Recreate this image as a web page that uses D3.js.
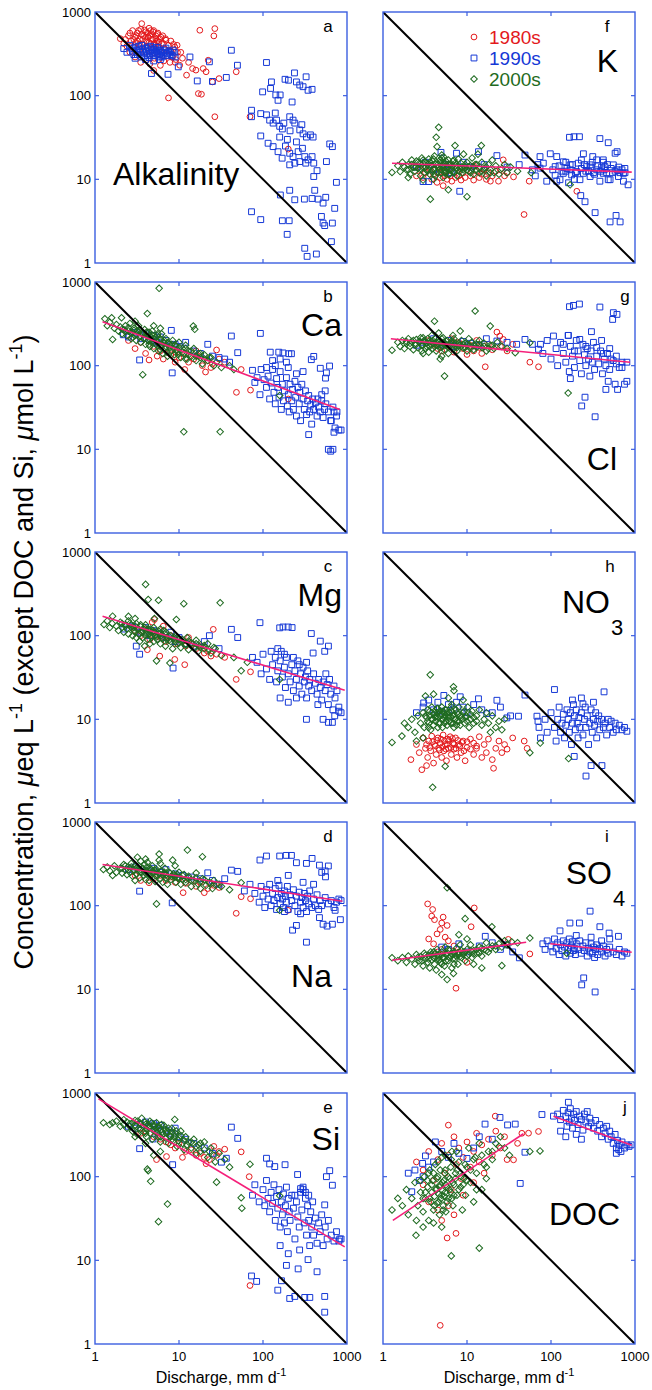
<!DOCTYPE html>
<html lang="en">
<head>
<meta charset="UTF-8">
<title>Concentration vs discharge</title>
<style>
  body { margin: 0; background: #fff; }
  text { font-family: "Liberation Sans", Arial, Helvetica, sans-serif; }
</style>
</head>
<body>
<script src="https://d3js.org/d3.v7.min.js"></script>
<script>
// ---- data (discharge mm/d, concentration) ----
const ticks = [1, 10, 100, 1000];
const decades = ['1980s', '1990s', '2000s'];

const alk80 = [[2.0,480],[2.2,420],[2.4,390],[2.5,520],[2.7,450],[2.8,600],[2.9,380],[3.0,500],[3.1,430],[3.2,560],[3.3,350],[3.4,470],[3.5,620],[3.6,726],[3.7,410],[3.8,520],[3.9,330],[4.0,580],[4.1,450],[4.2,370],[4.3,500],[4.4,640],[4.5,300],[4.6,420],[4.7,550],[4.8,350],[4.9,470],[5.0,600],[5.1,280],[5.2,400],[5.3,520],[5.4,330],[5.5,450],[5.6,560],[5.7,270],[5.8,380],[5.9,480],[6.0,310],[6.2,420],[6.4,520],[6.6,260],[6.8,360],[7.0,460],[7.2,300],[7.5,400],[7.8,250],[8.0,340],[8.3,290],[8.6,410],[8.9,383],[9.2,270],[9.6,330],[10.2,231],[11,280],[12.3,176],[13,250],[14.5,211],[15.9,202],[17,106],[17.7,605],[18.5,104],[19.4,211],[21,193],[22.3,265],[25,146],[26,518],[26.7,633],[26.7,56],[30,160],[48,193],[70,56],[200,23],[7.5,94],[3.5,250],[4.5,240],[2.6,330],[5.0,200],[6.0,230],[3.0,290],[9,250],
  [2.6,560],[2.9,470],[3.1,520],[3.3,600],[3.4,410],[3.6,540],[3.7,470],[3.9,610],[4.0,500],[4.2,560],[4.4,430],[4.5,520],[4.7,470],[4.9,580],[5.1,420],[5.3,480],[5.5,540],[5.8,440],[6.1,500],[6.5,420],[6.9,480],[3.2,450],[4.1,390],[4.6,600],[5.6,380],[2.3,470],[7.5,350],[8,450],[9.5,400],[10.5,330]];
const alk90 = [[2.2,366],[2.6,400],[2.8,340],[3.0,380],[3.2,310],[3.4,360],[3.6,400],[3.8,330],[4.0,370],[4.2,300],[4.4,350],[4.6,390],[4.8,320],[5.0,360],[5.2,300],[5.4,340],[5.6,380],[5.8,310],[6.0,350],[6.3,290],[6.6,330],[7.0,370],[7.3,300],[7.6,340],[8.0,310],[8.5,350],[9,290],[3,280],[4,270],[4.7,184],[7.4,180],[9.8,221],[13.5,290],[16.5,150],[23,254],[25,148],[36.6,165],[42,349],[49.6,231],[5,260],[6,270],
  [2.4,330],[2.7,370],[3.1,345],[3.3,390],[3.5,330],[3.7,360],[3.9,300],[4.1,340],[4.3,380],[4.5,320],[4.7,360],[4.9,300],[5.1,330],[5.3,375],[5.5,320],[5.7,350],[6.2,330],[6.8,350],[7.1,320],[7.8,330],[8.3,300],[8.8,330],[2.9,310],[3.6,290],[4.4,285],[5.9,290],[6.5,300],
  [110,249],[99,111],[126,146],[123,122],[142,102],[151,88],[160,102],[183,157],[201,153],[222,84],[237,187],[250,146],[274,134],[300,128],[326,168],[344,116],[384,119],[73,67],[73,56],[94,61],[110,59],[120,51],[132,47],[145,51],[158,43],[177,47],[208,56],[228,51],[239,47],[274,39],[300,35],[329,32],[367,34],[395,32],[94,33],[115,27],[132,24.6],[151,21.4],[169,17.9],[208,20.5],[228,18.7],[262,21.4],[295,23.5],[314,18.7],[344,17.1],[384,18.7],[402,15.6],[440,12.7],[569,16.3],[623,26.5],[670,24.6],[748,9.2],[208,14.9],[239,15.6],[274,16.3],[323,15.6],[158,32],[195,30],[402,10.8],[413,7.4],[208,7.4],[161,6.5],[239,5.7],[311,5.8],[384,5.9],[453,5.8],[519,5.2],[558,6.1],[714,4.5],[73,4.1],[94,3.3],[170,3.2],[205,3.2],[194,2.2],[496,3.6],[519,3.0],[543,2.8],[670,3.0],[652,1.8],[314,1.5],[335,1.2],[432,1.28],[170,40],[185,25],[250,28],[290,45],[210,38],[140,62]];

const ca80 = [[4.4,117],[11.7,90],[20.7,84],[28,154],[55,90],[48.3,48],[71,51],[3,160],[3.5,190],[4,140],[5,170],[5.5,130],[6,150],[6.5,120],[7,160],[8,135],[9,145],[10,125],[12,140],[13,110],[15,120],[17,130],[19,100],[22,115],[25,105],[30,120],[35,110],[2.5,200],[16,150],[24,95],[200,40],[9,110]];
const ca90 = [[2.17,234],[2.5,220],[3,250],[3.4,117],[3.5,210],[4,240],[4.5,200],[5,230],[5.5,190],[6,220],[7,200],[8.1,264],[8.3,82],[9,180],[10,170],[12,190],[15,150],[18,140],[22,180],[25,130],[30,125],[42,226],[50,143],[93,243],[35,120],[40,110],
  [75,88],[80,63],[85,72],[92,45],[95,90],[103,68],[110,55],[115,75],[120,40],[125,62],[130,90],[135,48],[140,35],[145,70],[150,55],[155,42],[160,85],[165,30],[170,60],[175,38],[180,50],[190,72],[195,33],[200,45],[205,28],[210,60],[220,38],[225,52],[230,30],[240,65],[245,42],[250,25],[260,55],[270,35],[275,48],[280,22],[290,60],[300,40],[310,30],[320,50],[330,26],[340,38],[350,44],[360,28],[370,34],[380,20],[390,40],[400,30],[420,36],[440,25],[460,32],[480,28],[500,38],[520,24],[540,30],[560,35],[600,28],[640,22],[680,32],[720,18],[760,28],[800,17],[850,17],[700,16],[650,22],[600,10],[640,9.5],[680,10],[350,15],[122,145],[154,145],[173,142],[203,139],[218,139],[376,118],[402,129],[481,93],[620,99],[555,71],[569,82],[130,115],[140,100],[160,120],[110,95],[190,110],[250,80],[300,85],[200,95],[450,40],[500,45],[550,50],[700,28],[750,25]];
const ca00 = [[1.31,363],[1.58,374],[1.62,206],[1.4,300],[1.5,330],[1.7,280],[1.8,310],[1.9,260],[2,290],[2.07,374],[2.1,240],[2.2,270],[2.3,300],[2.4,230],[2.5,260],[2.6,320],[2.7,210],[2.8,250],[2.9,280],[3,230],[3.1,200],[3.2,260],[3.3,300],[3.4,220],[3.5,190],[3.6,250],[3.7,78],[3.8,210],[3.9,270],[4,180],[4.1,230],[4.2,420],[4.3,200],[4.4,250],[4.5,170],[4.6,220],[4.7,190],[4.8,260],[5,160],[5.1,210],[5.3,180],[5.5,230],[5.7,150],[5.8,840],[5.9,200],[6,170],[6.2,240],[6.4,140],[6.6,190],[6.8,160],[7,210],[7.3,130],[7.6,180],[8,150],[8.4,200],[8.8,135],[9.2,170],[9.6,145],[10,190],[10.5,125],[11,160],[11.4,16.2],[11.5,140],[12,175],[12.5,120],[13,150],[14,130],[14.8,297],[15.4,272],[15,160],[16,115],[17,140],[18,125],[19,105],[20,135],[22,115],[24,125],[26,100],[28,110],[30.9,16.2],[32,95],[40,100],[45,90],[158,44],[5,300],[3,340],[6,280],
  [2.1,275],[2.3,255],[2.5,285],[2.7,245],[2.9,265],[3.1,235],[3.3,250],[3.5,225],[3.7,240],[3.9,215],[4.1,250],[4.3,225],[4.5,205],[4.7,235],[4.9,210],[5.1,190],[5.3,220],[5.5,195],[5.8,180],[6.1,205],[6.4,175],[6.7,200],[7,170],[7.4,190],[7.8,165],[8.2,180],[8.6,160],[9,175],[9.5,155],[10,165],[11,145],[12,160],[13,135],[14,150],[16,130],[18,140],[20,120],[23,125],[3.4,270],[4.4,180],[5.6,240],[7.2,145],[9.8,135],[2.8,220],[6,155],[12,120]];

const mg80 = [[4.2,68],[5.9,57],[8.9,52],[11.7,45],[24,57],[25.6,119],[48,30],[71,37],[5.1,156],[20,62],[3.5,100],[4,120],[4.5,90],[5,110],[6,95],[6.5,130],[7,85],[8,100],[9,80],[10,90],[12,75],[14,80],[16,70],[18,75],[22,65],[28,60],[35,55],[3,115],[13,95],[4.8,145]];
const mg90 = [[2.2,120],[2.8,130],[3.1,75],[3.4,60],[3.5,110],[4,125],[4.5,100],[5,115],[6,105],[7,95],[8,110],[8.5,41],[9,85],[10,95],[12,80],[15,75],[20,85],[23,100],[30,70],[42,119],[50,95],[92,143],
  [158,124],[173,127],[199,127],[222,125],[376,106],[481,86],[601,75],[543,65],[395,62],[329,10],[519,10],[600,9.2],[670,9.2],[800,12.5],[714,11],[75,55],[85,48],[95,35],[100,60],[110,40],[120,30],[125,65],[130,45],[140,55],[145,28],[150,38],[160,50],[165,65],[170,32],[180,42],[185,24],[190,55],[200,35],[210,28],[220,45],[230,22],[240,38],[250,30],[260,50],[270,25],[280,35],[290,20],[300,42],[310,28],[320,32],[330,18],[340,38],[350,25],[360,30],[380,22],[400,35],[420,27],[440,20],[460,30],[480,24],[500,17],[520,28],[550,22],[580,26],[600,15],[640,20],[680,13],[720,18],[760,22],[800,14],[850,12],[700,25],[620,30],[560,35],[160,18],[200,16],[250,18],[450,15],[150,70],[180,60],[230,55],[270,45],[330,48]];
const mg00 = [[1.28,136],[1.62,171],[1.4,150],[1.5,125],[1.6,140],[1.8,130],[1.9,115],[2,145],[2.1,125],[2.2,110],[2.3,135],[2.4,120],[2.5,105],[2.6,140],[2.7,125],[2.8,100],[2.9,115],[3,130],[3.1,95],[3.2,120],[3.3,105],[3.4,85],[3.5,135],[3.6,110],[3.7,95],[3.8,120],[3.9,75],[4,410],[4,100],[4.1,115],[4.2,90],[4.3,270],[4.4,105],[4.5,80],[4.6,120],[4.7,95],[4.8,110],[5,85],[5.1,160],[5.2,100],[5.4,50],[5.5,90],[5.7,265],[5.8,105],[6,80],[6.3,95],[6.6,115],[6.9,75],[7.2,90],[7.5,100],[7.8,47],[8,85],[8.4,70],[8.8,95],[9.3,156],[9.5,80],[10,90],[10.5,72],[11,85],[11.4,241],[12,78],[12.5,95],[13,68],[14,82],[15,72],[16,88],[17,65],[18,78],[20,70],[22,80],[24,62],[27,70],[30.9,247],[32,58],[45,55],[55,38],[65,48],[158,30],[3,160],[2.5,170],
  [2.1,140],[2.3,130],[2.5,150],[2.7,135],[2.9,125],[3.1,140],[3.3,120],[3.5,128],[3.7,115],[3.9,125],[4.1,108],[4.3,120],[4.5,112],[4.7,100],[4.9,115],[5.2,108],[5.5,98],[5.8,112],[6.1,100],[6.4,92],[6.8,105],[7.2,95],[7.6,88],[8,100],[8.5,92],[9,85],[9.5,95],[10,82],[11,90],[12,80],[13,86],[14,76],[16,80],[18,72],[20,76],[23,68],[26,72],[3,110],[4,135],[5,125],[6,120],[7,110],[9,100]];

const na80 = [[48,81],[55,128],[71,121],[20,143],[11.2,143],[4.4,188],[24.4,184],[198,88],[3,230],[4,250],[5,210],[6,230],[7,200],[8,220],[9,190],[10,210],[12,185],[14,200],[16,170],[18,190],[22,160],[26,175],[30,165],[3.5,200]];
const na90 = [[3.4,149],[8.3,108],[22,247],[42,266],[50,257],[2.5,270],[3,290],[4,260],[5,280],[6,250],[7,270],[9,240],[11,230],[14,220],[18,210],[25,200],[30,180],[35,210],[60,150],[70,180],
  [92,351],[110,392],[158,392],[189,399],[218,399],[250,326],[329,320],[384,367],[470,305],[600,298],[555,221],[250,58],[225,51],[329,36.6],[519,60],[580,57],[670,60],[834,68],[722,88],[470,72],[80,140],[90,110],[95,170],[100,130],[105,95],[110,155],[115,120],[120,180],[125,100],[130,140],[135,115],[140,160],[145,90],[150,125],[155,175],[160,105],[165,140],[170,120],[175,95],[180,150],[185,130],[190,110],[195,170],[200,90],[210,135],[220,115],[230,155],[240,100],[250,130],[260,85],[270,145],[280,110],[290,125],[300,95],[310,140],[320,115],[330,85],[340,130],[350,105],[360,150],[380,95],[400,120],[420,100],[440,135],[460,90],[480,115],[500,100],[550,125],[600,105],[650,115],[700,95],[750,110],[800,120],[850,115],[180,85],[280,80],[150,200],[300,190],[400,180],[200,230],[500,250],[550,260]];
const na00 = [[12.6,462],[5.8,414],[19,385],[5.4,105],[1.26,271],[1.62,230],[55,188],[158,88],[1.4,290],[1.5,260],[1.7,300],[1.8,250],[2,280],[2.1,245],[2.2,310],[2.3,265],[2.4,235],[2.5,290],[2.6,250],[2.7,320],[2.8,225],[2.9,270],[3,300],[3.1,240],[3.2,380],[3.3,260],[3.4,215],[3.5,340],[3.6,250],[3.7,280],[3.8,230],[3.9,310],[4,205],[4.1,260],[4.2,330],[4.3,240],[4.4,200],[4.5,280],[4.6,225],[4.8,300],[5,250],[5.2,195],[5.4,270],[5.6,230],[5.8,350],[6,210],[6.2,260],[6.4,190],[6.6,240],[6.8,280],[7,215],[7.3,180],[7.6,250],[8,205],[8.4,350],[8.8,230],[9.2,190],[9.6,215],[10,250],[10.5,180],[11,205],[11.5,235],[12,190],[13,215],[14,170],[15,200],[16,245],[17,180],[18,160],[19,210],[21,175],[23,190],[25,160],[28,180],[32,170],[40,155],[4,360],[6,320],[3,200],[9,300],
  [2.1,280],[2.3,300],[2.5,270],[2.7,290],[2.9,260],[3.1,280],[3.3,300],[3.5,255],[3.7,275],[3.9,250],[4.1,285],[4.3,260],[4.5,240],[4.7,270],[4.9,245],[5.1,265],[5.3,230],[5.5,255],[5.8,240],[6.1,260],[6.4,230],[6.7,250],[7,235],[7.4,220],[7.8,245],[8.2,225],[8.6,240],[9,220],[9.5,235],[10,215],[11,230],[12,205],[13,225],[14,200],[16,215],[18,195],[20,205],[23,185],[26,200],[30,180]];

const si80 = [[55,198],[68.5,100],[70,5.0],[26,230],[21,143],[7.1,174],[5.4,160],[35,213],[4,350],[5,300],[6,280],[7,260],[8,240],[9,220],[10,250],[12,200],[14,210],[16,180],[18,190],[20,170],[23,160],[28,180],[30,200],[3.5,330],[11,170]];
const si90 = [[3.4,216],[4.9,282],[8.4,139],[32,149],[36.6,166],[42,391],[50,287],[2.5,400],[3,380],[3.5,420],[4,450],[4.5,400],[5,430],[5.5,370],[6,410],[7,360],[8,330],[9,380],[10,300],[12,280],[15,250],[20,220],[25,190],
  [110,166],[120,142],[138,132],[183,139],[258,106],[623,118],[569,100],[670,79],[820,18],[543,46],[73,6.5],[84,5.6],[166,5.7],[150,4.4],[208,3.5],[239,3.7],[314,3.6],[361,3.6],[543,2.4],[543,3.7],[344,10.2],[262,7.9],[190,8.7],[273,13.3],[440,7.3],[75,60],[80,80],[90,50],[100,70],[105,45],[110,90],[115,55],[120,38],[125,65],[130,48],[135,80],[140,30],[145,58],[150,42],[155,70],[160,25],[165,50],[170,35],[175,62],[180,28],[185,45],[190,75],[195,22],[200,55],[205,38],[210,30],[220,60],[230,42],[240,18],[250,50],[260,33],[270,25],[280,65],[290,40],[300,70],[310,28],[320,55],[330,20],[340,45],[350,30],[360,15],[370,38],[380,25],[390,50],[400,20],[420,32],[440,16],[460,28],[480,22],[500,35],[520,15],[550,25],[580,18],[600,30],[650,20],[700,17],[750,22],[800,17],[850,18],[300,75],[320,65],[280,72],[350,60],[240,60],[160,15],[200,12]];
const si00 = [[1.26,441],[1.62,441],[8.9,483],[5.7,29],[7.3,47],[4.2,123],[4.3,118],[4.6,88],[28,86],[55,56],[56,42],[70,141],[158,59],[1.5,420],[1.8,460],[2,400],[2.2,480],[2.4,380],[2.6,430],[2.8,350],[3,470],[3.1,400],[3.2,320],[3.4,440],[3.5,370],[3.6,500],[3.8,340],[4,420],[4.1,300],[4.3,390],[4.5,460],[4.6,330],[4.8,280],[5,400],[5.2,350],[5.4,440],[5.6,300],[5.8,380],[6,260],[6.3,340],[6.6,410],[6.9,290],[7.2,350],[7.5,250],[7.8,310],[8.2,380],[8.6,270],[9,330],[9.5,230],[10,290],[10.5,350],[11,250],[11.5,210],[12,300],[13,260],[14,220],[15,280],[16,190],[17,240],[18,200],[20,260],[22,170],[24,220],[27,150],[30,190],[35,160],[40,130],[3,300],[4,250],[6,200],[5,180],
  [2.2,420],[2.4,450],[2.6,400],[2.8,440],[3,410],[3.2,460],[3.3,380],[3.5,430],[3.7,400],[3.9,450],[4.1,370],[4.3,420],[4.5,390],[4.7,440],[4.9,360],[5.1,410],[5.3,380],[5.5,340],[5.7,400],[6,360],[6.2,420],[6.5,320],[6.8,370],[7.1,330],[7.5,380],[7.9,300],[8.3,340],[8.8,300],[9.3,350],[9.8,270],[10.5,310],[11.5,270],[12.5,240],[14,260],[16,230],[18,250],[20,210],[23,200],[26,180],[4,330],[6,300],[8,270]];

const k80 = [[2.5,11],[2.8,13],[3,10.5],[3.2,12],[3.5,14],[3.8,10],[4,11.5],[4.2,13],[4.4,9.2],[4.6,12],[4.8,10.5],[5,14],[5.2,8.4],[5.4,11],[5.6,12.5],[5.8,10],[6,13],[6.3,11],[6.6,9.5],[7,12],[7.3,10.5],[7.6,13.5],[8,11],[8.5,9.8],[9,12],[9.5,10.5],[10,13],[11,11],[12,9.8],[13,12.5],[14,10.5],[15,11.5],[16,13],[17,10],[18,12],[19,9.5],[20,11],[22,12.5],[23.7,9.5],[25,13],[27,17.1],[28,11],[30,12],[35.8,10.7],[55,9.5],[47.8,3.8],[203,7.2],[12,14.5],[6,15]];
const k90 = [[3,9.4],[3.5,9.4],[4.9,21],[7.5,20.5],[8.2,7.2],[13.7,21.4],[22.7,19.2],[41.8,15],[49,19.5],[3.2,16],[4,13],[5.5,15],[6.5,12],[2.5,14],[9,16],[11,14],[16,15],[30,14],[60,13],[70,15],[65,11],
  [166,31.8],[188,32.3],[218,32.3],[382,30.7],[480,27.4],[580,20.5],[612,21.4],[74,18.7],[98,20.2],[117,18.7],[243,20.2],[314,18.7],[419,17.1],[81,15.6],[112,14.2],[140,16.2],[169,14.9],[211,15.6],[266,14.2],[350,13],[438,14.2],[552,14.9],[728,11.8],[112,11.2],[140,11.8],[176,11.3],[221,9.9],[292,10.8],[382,9.5],[505,9.9],[635,10.8],[828,8.6],[117,9.5],[162,9.1],[226,6.4],[254,5.4],[335,4.0],[505,3.1],[595,3.7],[665,3.1],[169,13],[202,12.4],[243,11.8],[292,14.9],[350,17.1],[419,11.8],[480,9.9],[612,13],[758,13.5],[728,9.5],[89,9.5],[128,9.9],[74,13.6],[150,12.5],[190,10],[260,12.5],[330,11.5],[400,14],[460,12],[540,12],[660,12],
  [105,13],[125,14.5],[135,12.5],[155,13.5],[180,15],[195,12],[230,13.5],[250,15],[280,12.5],[300,14],[320,12],[360,14.5],[390,12.5],[430,13],[470,15],[520,13.5],[580,12.5],[640,14],[700,13],[760,12],[150,16],[230,17],[310,16],[420,16]];
const k00 = [[1.28,12.1],[1.6,12.4],[1.5,14.5],[1.7,16],[1.9,13],[2,15],[2.1,11.5],[2.2,17],[2.3,14],[2.4,12.5],[2.5,16.5],[2.6,13.5],[2.7,15.5],[2.8,11],[2.9,18],[3,14],[3.1,12],[3.2,16],[3.3,13],[3.4,15],[3.5,17.5],[3.6,11.5],[3.66,5.8],[3.7,14.5],[3.8,12.5],[3.9,16.5],[4,13.5],[4.1,19],[4.2,11],[4.3,31.8],[4.4,24.6],[4.5,15],[4.6,41.8],[4.7,13],[4.8,17],[4.9,12],[5,14.5],[5.1,16],[5.2,10.5],[5.3,18.5],[5.4,13],[5.5,15.5],[5.6,12],[5.8,14],[6,7.5],[6,17],[6.2,11.5],[6.4,15],[6.6,13],[6.8,16.5],[7,12],[7.2,25.3],[7.3,14.5],[7.6,11],[7.9,17.5],[8.2,13.5],[8.5,15.5],[8.8,12],[9.1,20],[9.5,14],[10,6.2],[10,16],[10.5,12.5],[11,14.5],[11.5,18],[12,11.5],[12.5,15],[13,13],[13.5,20],[14,12],[14.8,25.3],[15,16],[16,13.5],[17,11],[18,15],[19,13],[20,17],[21,12],[22,14.5],[24,11.5],[26,13.5],[28,15],[30,12],[33,14],[40,12.5],[58,12],[169,8.6],[2,10.5],[3,9.8],[4,10],[5,19.5],
  [1.8,14],[2,13],[2.2,15],[2.4,14],[2.6,16],[2.8,13.5],[3,15.5],[3.2,14],[3.4,12.5],[3.6,16],[3.8,14.5],[4,13],[4.2,15.5],[4.4,12],[4.6,14],[4.8,16],[5,13],[5.2,14.5],[5.4,12],[5.6,16.5],[5.8,13.5],[6,15],[6.3,13],[6.6,14.5],[6.9,12.5],[7.2,15.5],[7.5,13.5],[7.8,14.5],[8.2,12.5],[8.6,14],[9,13],[9.5,15],[10,13],[10.5,14],[11,12],[12,14],[13,15],[14,13.5],[15,12.5],[17,14],[19,12],[3,17],[4,17.5],[5,18],[6,11.5],[7,17]];

const cl80 = [[16.5,97],[22.7,252],[24.6,226],[27,206],[56,110],[71,97],[10,136],[4,180],[5,150],[6,170],[7,145],[8,190],[9,160],[11,175],[12,150],[13,200],[14,165],[15,140],[18,180],[20,155],[3.5,200],[6.5,210],[25,170],[30,150],[35,180],[4.5,160]];
const cl90 = [[3,190],[4,210],[5,180],[6,200],[7,170],[9,195],[11,185],[14,175],[17,210],[22.7,197],[30,190],[39,180],[49,206],[71,157],[60,180],[2.5,175],
  [75,180],[80,140],[90,200],[100,120],[107,226],[115,160],[120,100],[130,190],[140,140],[150,110],[160,230],[165,85],[170,170],[180,130],[190,95],[200,200],[210,150],[220,115],[230,80],[240,180],[250,135],[260,100],[270,160],[280,120],[290,75],[300,150],[310,110],[320,190],[330,90],[350,130],[370,105],[390,150],[410,80],[430,120],[450,100],[470,140],[500,90],[550,115],[600,105],[650,95],[700,110],[750,60],[800,65],[620,52],[580,60],[450,52],[480,65],[303,255],[161,230],[220,206],[500,160],[400,200],[166,507],[185,525],[218,545],[382,502],[552,430],[610,410],[542,357],[170,70],[335,24.5],[232,33],[254,42],[140,180],[190,150],[260,170],[350,165],[420,140],[520,120],[600,130],[700,95],[800,110]];
const cl00 = [[1.28,153],[1.5,190],[1.6,170],[1.7,200],[1.8,160],[1.9,185],[2,210],[2.1,170],[2.2,195],[2.3,155],[2.4,180],[2.5,205],[2.6,165],[2.7,190],[2.8,215],[2.9,150],[3,175],[3.1,200],[3.2,160],[3.3,185],[3.4,210],[3.5,145],[3.6,170],[3.7,195],[3.8,230],[3.9,160],[4,185],[4.1,340],[4.2,210],[4.3,150],[4.4,175],[4.5,200],[4.6,245],[4.8,120],[4.9,165],[5,190],[5.2,215],[5.4,75],[5.4,155],[5.6,180],[5.8,200],[6,140],[6.2,170],[6.5,195],[6.8,230],[7,160],[7.3,185],[7.6,150],[8,175],[8.3,259],[8.6,200],[9,165],[9.5,185],[10,150],[10.5,210],[11,170],[11.5,190],[12,155],[12.5,450],[13,180],[14,200],[15,165],[16,185],[17,150],[18.9,297],[19,175],[21,160],[23,190],[26,170],[30,160],[37.5,143],[56,188],[160,47],[3,140],[5,130],
  [1.9,195],[2.1,185],[2.3,200],[2.5,180],[2.7,195],[2.9,175],[3.1,190],[3.3,170],[3.5,195],[3.7,180],[3.9,200],[4.1,170],[4.3,190],[4.5,175],[4.7,195],[4.9,180],[5.1,170],[5.3,190],[5.5,175],[5.7,195],[6,165],[6.3,185],[6.6,170],[6.9,190],[7.2,175],[7.6,165],[8,185],[8.5,170],[9,180],[9.5,165],[10,180],[11,160],[12,175],[13,165],[14,180],[16,170],[18,160],[20,175],[5,210],[7,210],[3,215]];

const no80 = [[2.15,3.3],[2.5,5],[2.7,4],[2.9,2.5],[3,6],[3.2,4.5],[3.4,3.5],[3.5,5.5],[3.7,4.2],[3.8,6.3],[4,3],[4.1,5],[4.3,3.8],[4.5,6],[4.6,4.5],[4.8,5.2],[5,3.5],[5.2,6.5],[5.3,4.2],[5.5,5],[5.7,3.2],[5.9,5.8],[6,4.5],[6.3,6.2],[6.5,3.8],[6.8,5.2],[7,4.4],[7.3,6],[7.6,3.5],[8,5],[8.5,4],[9,5.5],[9.5,3.2],[10,4.6],[11,5.8],[12,3.8],[13,4.8],[14,6.2],[15,3.5],[16,5],[17,4],[18,5.8],[20.7,2.6],[20,3.3],[22,4.5],[24,5.5],[26,4],[28,5],[30,4.4],[35,6],[48,5.5],[52,4.5],[3.3,2.8],
  [3.3,5],[3.6,4.6],[3.9,5.4],[4.2,4.8],[4.4,5.6],[4.7,4.3],[4.9,5.8],[5.1,4.7],[5.4,5.5],[5.6,4.4],[5.8,5],[6.1,5.6],[6.4,4.6],[6.7,5.9],[7,5],[7.4,4.5],[7.8,5.6],[8.2,4.8],[8.7,5.3],[9.2,4.2],[10,5.4],[11,4.4],[12,5.2],[13,4.5]];
const no90 = [[3.05,15.7],[5.3,19.3],[8.3,18.6],[13.7,17.6],[22.7,16.9],[49,19.5],[17.2,11.7],[29.8,10.4],[41,10.9],[68,10.9],[2.5,12],[3,14],[3.5,17],[4,13],[4.5,16],[5,12.5],[6,15],[7,13],[7.5,16],[9,14],[10,12],[12,15],[15,13],[20,12],[25,14],[33,11],[72,8],[75,6],[70,9.5],
  [110,22.7],[428,21.3],[240,15.3],[261,2.1],[300,2.8],[404,2.8],[189,3.6],[85,10],[90,7],[100,12],[110,8],[115,5.5],[120,10],[125,14],[130,7],[135,9],[140,11.5],[145,6],[150,8.5],[155,13],[160,10],[165,7],[170,12],[175,5],[180,9],[185,15],[190,11],[195,7.5],[200,13],[205,9],[210,6],[215,10.5],[220,8],[230,12],[240,6.5],[250,10],[255,14],[260,8],[270,11],[280,5],[290,9],[300,13],[310,7],[320,10],[330,8.5],[340,12],[350,6],[360,9.5],[370,11],[380,7.5],[400,10],[420,8],[440,9],[460,6.5],[480,10],[500,8],[520,9.5],[550,7],[580,9],[600,7.5],[650,8.5],[700,7.5],[750,8],[800,7.2],[230,18],[180,17],[320,16]];
const no00 = [[3.65,34],[6.9,24.5],[3.2,19],[3.9,1.54],[1.28,5.3],[1.68,6.3],[5.5,2.75],[56,4],[74.5,5.2],[162,3.4],[2,8],[2.2,10],[2.4,7],[2.6,11],[2.8,9],[3,12],[3.1,8],[3.3,10.5],[3.4,13],[3.5,9],[3.6,11],[3.7,7.5],[3.8,14],[3.9,10],[4,8.5],[4.1,12],[4.2,9.5],[4.3,11],[4.4,13.5],[4.5,8],[4.6,10.5],[4.7,12.5],[4.8,9],[4.9,11.5],[5,14],[5.1,8],[5.2,10],[5.3,12],[5.4,9],[5.5,11],[5.6,13],[5.8,8.5],[6,10.5],[6.2,12],[6.4,9],[6.6,15],[6.8,11],[7,8],[7.2,10],[7.4,13],[7.6,9.5],[7.8,11.5],[8,14],[8.3,8.5],[8.6,10.5],[9,12],[9.4,9],[9.8,11],[10.2,14],[10.6,8],[11,10],[11.5,12.5],[12,9],[13,11],[14,13],[15,8.5],[16,10],[17,12],[18,9],[19,7],[20,11],[22,8],[24,9.5],[26,7.5],[28,10],[2.5,5.5],[3,6],[4,20],[7,22],[6,18],[9,17],[1.8,9],
  [3.2,11],[3.4,9.5],[3.6,12.5],[3.8,10],[4,11.5],[4.2,10.5],[4.4,12],[4.6,9],[4.8,11],[5,10],[5.2,12.5],[5.4,10.5],[5.6,9.5],[5.8,12],[6,11],[6.2,9.5],[6.4,10.8],[6.6,12.5],[6.8,9],[7,11.5],[7.3,10],[7.6,12],[8,9.5],[8.4,11],[8.8,10],[9.2,12.5],[9.6,10.5],[10,9.5],[11,11.5],[12,10.5],[13,9.5],[4.5,13.5],[5.5,13],[6.5,14],[3.5,8],[7.5,8.5]];

const so80 = [[3.4,105],[3.9,90],[4.1,68],[5.2,73],[5.8,58],[4.4,46],[12.2,94],[11.2,56],[7.4,10.3],[10,21],[56,26.5],[31,39.5],[4,35],[5,30],[6,38],[4.5,28],[5.5,42],[7,33],[8,28],[3.5,40],[4.8,52],[5,62],[3.8,75]];
const so90 = [[16.5,43],[42,23.8],[5,32],[6,30],[8,35],[10,28],[14,33],[20,36],[25,30],[30,34],[35,28],
  [292,86],[168,62],[218,62],[382,56],[492,47],[128,50],[635,43],[245,13.7],[232,11.3],[335,9.3],[80,35],[85,30],[90,38],[100,33],[105,28],[110,40],[115,31],[120,36],[125,26],[130,34],[135,29],[140,38],[145,32],[150,25],[155,36],[160,30],[165,40],[170,27],[175,33],[180,37],[185,29],[190,31],[195,26],[200,35],[210,30],[220,38],[230,27],[240,33],[250,29],[260,36],[270,25],[280,31],[290,28],[300,35],[310,27],[320,32],[330,24],[340,30],[350,34],[360,26],[380,31],[400,28],[420,33],[440,25],[460,30],[480,27],[500,32],[550,28],[600,26],[650,30],[700,25],[750,28],[800,27],[500,40],[400,38],[300,42],[200,44]];
const so00 = [[1.28,23.8],[1.5,22],[1.7,24],[1.9,21],[2,25],[2.2,23],[2.4,20],[2.5,26],[2.7,22],[2.8,24.5],[3,19],[3.1,27],[3.2,23],[3.4,21],[3.5,25.5],[3.6,18],[3.7,28],[3.8,22.5],[4,24],[4.1,20],[4.2,27],[4.3,17],[4.4,30],[4.5,23],[4.6,25],[4.8,21],[5,15],[5,28],[5.2,24],[5.4,19],[5.5,32],[5.6,26],[5.8,13.1],[5.8,164],[6,22],[6.2,29],[6.4,25],[6.6,18],[6.9,15.5],[7,27],[7.2,23],[7.5,31],[7.8,20],[8,26],[8.3,34],[8.6,24],[9,28],[9.5,70],[9.5,22],[10,30],[10.5,26],[11,34],[11.5,24],[12,29],[13,27],[14,32],[15,25],[16,30],[17,36],[18,28],[19.8,56],[20,33],[22,30],[24,35],[26,19.2],[26,32],[28,38],[30,34],[34,37],[40,36],[56,41],[154,27],[12,20],[15,18],[8,45],[10,40],
  [2.6,24],[2.9,22],[3.2,25.5],[3.5,23],[3.8,26],[4.1,23.5],[4.4,25],[4.7,22.5],[5,26],[5.3,24],[5.6,22],[5.9,27],[6.2,24],[6.5,26.5],[6.8,23],[7.1,28],[7.4,25],[7.8,27],[8.2,24.5],[8.6,29],[9,26],[9.5,28],[10,25],[11,29],[12,26.5],[13,30],[14,27],[15,31],[17,29],[19,31],[22,33],[5,20],[7,20],[4,28],[6,30]];

const doc80 = [[6,413],[21.7,529],[71,347],[54,331],[7.4,21],[5.8,18.5],[4.8,1.67],[35.8,159],[2.5,150],[3,120],[3.5,200],[4,90],[4.5,160],[5,250],[5.5,110],[6,180],[6.5,70],[7,300],[7.5,140],[8,220],[8.5,95],[9,170],[10,260],[11,130],[12,200],[13,330],[14,150],[15,240],[16,110],[18,280],[20,180],[22,350],[25,220],[28,300],[30,160],[40,250],[3.5,50],[4.5,40],[5,30],[6,45],[7,35],[3,80],[9,60],[12,85],[45,330]];
const doc90 = [[2.2,66],[2.4,120],[2.96,144],[3.2,177],[4.2,260],[10,165],[16.4,425],[24.7,510],[30.4,415],[37.5,425],[78,553],[49,196],[43,83],[3,100],[3.5,130],[4,150],[5,200],[6,170],[7,250],[8,190],[12,220],[14,300],[20,280],[2,110],[2.7,90],
  [161,775],[107,529],[120,560],[130,480],[140,620],[150,520],[155,400],[160,580],[165,450],[170,650],[175,500],[180,380],[185,560],[190,470],[200,600],[210,420],[220,530],[230,480],[240,360],[250,560],[260,450],[270,600],[280,400],[290,500],[300,440],[320,380],[340,470],[360,350],[380,420],[400,300],[420,380],[440,330],[460,400],[480,280],[500,350],[520,300],[550,250],[580,320],[600,220],[620,270],[650,240],[680,200],[700,260],[750,220],[800,240],[850,230],[900,240],[130,350],[150,300],[200,320],[230,280],[600,190],[640,210]];
const doc00 = [[1.28,40],[2.47,19.9],[6.5,11.3],[14,14],[74,203],[56,200],[1.5,55],[1.7,45],[1.9,70],[2,35],[2.2,55],[2.4,85],[2.6,45],[2.8,65],[3,38],[3.1,100],[3.2,55],[3.4,75],[3.5,30],[3.6,120],[3.7,50],[3.8,65],[3.9,90],[4,40],[4.1,58],[4.2,140],[4.3,72],[4.4,48],[4.5,100],[4.6,62],[4.7,35],[4.8,80],[4.9,55],[5,170],[5.1,68],[5.2,45],[5.3,90],[5.4,58],[5.5,120],[5.6,38],[5.8,75],[6,55],[6.2,95],[6.4,65],[6.6,200],[6.8,45],[7,80],[7.3,110],[7.6,60],[8,150],[8.4,75],[8.8,40],[9.2,95],[9.6,60],[10,130],[10.5,220],[11,85],[12,50],[12.5,170],[13,110],[14,250],[15,70],[16,140],[17,95],[18,200],[20,160],[22,250],[25,300],[28,220],[32,180],[3,25],[4,28],[5,25],[2.5,30],
  [3.2,65],[3.4,90],[3.6,55],[3.8,80],[4,110],[4.1,45],[4.3,70],[4.4,95],[4.6,50],[4.7,75],[4.8,120],[5,60],[5.1,85],[5.2,40],[5.4,110],[5.5,65],[5.6,80],[5.8,50],[6,100],[6.2,70],[6.4,130],[6.6,55],[6.8,85],[7,60],[7.3,95],[7.6,120],[8,70],[8.5,100],[9,80],[9.5,140],[10,90],[11,120],[12,160],[13,70],[15,180],[17,130],[20,200],[24,230],[3.5,110],[4.5,150],[5.5,180],[6.5,160],[7.5,200],[2.8,90],[3,55]];

// fitted lines (end points)
const kFit = [[[1.28,15.6],[914,12.2]]];
const caFit = [[[1.23,335],[819,30]]];
const mgFit = [[[1.23,171],[940,22.3]]];
const naFit = [[[1.23,311],[881,113]]];
const siFit = [[[1.1,850],[940,14.5]]];
const clFit = [[[1.24,210],[873,110]]];
const soFit = [[[1.28,22.3],[50.6,36.6]], [[98,35],[914,27.8]]];
const docFit = [[[1.31,30],[47,326]], [[107,529],[914,237]]];

// ---- layout ----
const W = 252, H = 251;
const colX = [95, 383];
const rowY = [12, 282, 552, 822, 1093];
const red = '#e3191c', blue = '#1538d6', green = '#1f6b21', pink = '#f5207a', frame = '#3b5ee0';

const panels = [
  {col:0,row:0,letter:'a',lx:328,name:'Alkalinity',nx:113,anchor:'start',ny:173,s:[alk80,alk90,null],fit:[]},
  {col:0,row:1,letter:'b',lx:328,name:'Ca',nx:342,anchor:'end',ny:54,s:[ca80,ca90,ca00],fit:caFit},
  {col:0,row:2,letter:'c',lx:328,name:'Mg',nx:342,anchor:'end',ny:54,s:[mg80,mg90,mg00],fit:mgFit},
  {col:0,row:3,letter:'d',lx:328,name:'Na',nx:332,anchor:'end',ny:165,s:[na80,na90,na00],fit:naFit},
  {col:0,row:4,letter:'e',lx:328,name:'Si',nx:340,anchor:'end',ny:57,s:[si80,si90,si00],fit:siFit},
  {col:1,row:0,letter:'f',lx:607,name:'K',nx:618,anchor:'end',ny:60,s:[k80,k90,k00],fit:kFit},
  {col:1,row:1,letter:'g',lx:625,name:'Cl',nx:617,anchor:'end',ny:188,s:[cl80,cl90,cl00],fit:clFit},
  {col:1,row:2,letter:'h',lx:610,name:'NO',sub:'3',nx:610,anchor:'end',ny:61,s:[no80,no90,no00],fit:[]},
  {col:1,row:3,letter:'i',lx:607,name:'SO',sub:'4',nx:612,anchor:'end',ny:62,s:[so80,so90,so00],fit:soFit},
  {col:1,row:4,letter:'j',lx:625,name:'DOC',nx:620,anchor:'end',ny:132,s:[doc80,doc90,doc00],fit:docFit}
];

const svg = d3.select('body').append('svg')
  .attr('width', 652).attr('height', 1390);

const x = d3.scaleLog().domain([1, 1000]).range([0, W]);
const y = d3.scaleLog().domain([1, 1000]).range([H, 0]);

svg.append('defs').append('clipPath').attr('id', 'clip')
  .append('rect').attr('width', W).attr('height', H);

const symCircle = d3.symbol().type(d3.symbolCircle).size(26)();
const symSquare = d3.symbol().type(d3.symbolSquare).size(34)();
const symDiamond = d3.symbol().type(d3.symbolSquare).size(22)();
const styles = [
  {path: symCircle, color: red, rot: 0},
  {path: symSquare, color: blue, rot: 0},
  {path: symDiamond, color: green, rot: 45}
];

panels.forEach(p => {
  const g = svg.append('g').attr('transform', `translate(${colX[p.col]},${rowY[p.row]})`);
  const plot = g.append('g').attr('clip-path', 'url(#clip)');

  p.s.forEach((pts, i) => {
    if (!pts) return;
    const st = styles[i];
    plot.append('g').selectAll('path')
      .data(pts)
      .join('path')
      .attr('d', st.path)
      .attr('transform', d => `translate(${x(d[0])},${y(d[1])}) rotate(${st.rot})`)
      .attr('fill', 'none')
      .attr('stroke', st.color)
      .attr('stroke-width', 1);
  });

  // 1:1 flux line
  plot.append('line')
    .attr('x1', x(1)).attr('y1', y(1000))
    .attr('x2', x(1000)).attr('y2', y(1))
    .attr('stroke', '#000').attr('stroke-width', 2);

  p.fit.forEach(seg => {
    plot.append('path')
      .datum(seg)
      .attr('d', d3.line().x(d => x(d[0])).y(d => y(d[1])))
      .attr('stroke', pink).attr('stroke-width', 1.6).attr('fill', 'none');
  });

  // frame and inner ticks
  g.append('rect').attr('width', W).attr('height', H)
    .attr('fill', 'none').attr('stroke', frame).attr('stroke-width', 1.4);
  const tg = g.append('g').attr('stroke', frame).attr('stroke-width', 1.2);
  [10, 100].forEach(t => {
    tg.append('line').attr('x1', x(t)).attr('x2', x(t)).attr('y1', H).attr('y2', H - 4);
    tg.append('line').attr('x1', x(t)).attr('x2', x(t)).attr('y1', 0).attr('y2', 4);
    tg.append('line').attr('y1', y(t)).attr('y2', y(t)).attr('x1', 0).attr('x2', 4);
    tg.append('line').attr('y1', y(t)).attr('y2', y(t)).attr('x1', W).attr('x2', W - 4);
  });

  if (p.col === 0) {
    g.append('g').selectAll('text').data(ticks).join('text')
      .attr('x', -4).attr('y', d => y(d)).attr('dy', '0.36em')
      .attr('text-anchor', 'end').attr('font-size', 13).text(d => d);
  }
  if (p.row === 4) {
    g.append('g').selectAll('text').data(ticks).join('text')
      .attr('x', d => x(d)).attr('y', H + 17)
      .attr('text-anchor', 'middle').attr('font-size', 13).text(d => d);
    const xl = g.append('text').attr('x', W / 2).attr('y', H + 39)
      .attr('text-anchor', 'middle').attr('font-size', 16);
    xl.append('tspan').text('Discharge, mm d');
    xl.append('tspan').attr('font-size', 11).attr('dy', -7).text('-1');
  }

  // panel letter and constituent name
  g.append('text').attr('x', p.lx - colX[p.col]).attr('y', 20)
    .attr('text-anchor', 'middle').attr('font-size', 17).text(p.letter);
  g.append('text').attr('x', p.nx - colX[p.col]).attr('y', p.ny)
    .attr('text-anchor', p.anchor).attr('font-size', 32).text(p.name);
  if (p.sub) {
    g.append('text').attr('x', p.nx - colX[p.col] + 1).attr('y', p.ny + 22)
      .attr('font-size', 22).text(p.sub);
  }
});

// legend in panel f
const leg = svg.append('g').attr('transform', `translate(474,${rowY[0]})`);
decades.forEach((d, i) => {
  const st = styles[i];
  const row = leg.append('g').attr('transform', `translate(0,${25 + i * 21})`);
  row.append('path').attr('d', st.path).attr('transform', `rotate(${st.rot})`)
    .attr('fill', 'none').attr('stroke', st.color).attr('stroke-width', 1);
  row.append('text').attr('x', 15).attr('y', 7).attr('font-size', 19)
    .attr('fill', st.color).text(d);
});

// y-axis title
const yl = svg.append('text')
  .attr('transform', 'translate(33,652) rotate(-90)')
  .attr('text-anchor', 'middle').attr('font-size', 27);
yl.append('tspan').text('Concentration, ');
yl.append('tspan').attr('font-style', 'italic').text('μ');
yl.append('tspan').text('eq L');
yl.append('tspan').attr('font-size', 18).attr('dy', -11).text('-1');
yl.append('tspan').attr('dy', 11).text(' (except DOC and Si, ');
yl.append('tspan').attr('font-style', 'italic').text('μ');
yl.append('tspan').text('mol L');
yl.append('tspan').attr('font-size', 18).attr('dy', -11).text('-1');
yl.append('tspan').attr('dy', 11).text(')');
</script>
</body>
</html>
